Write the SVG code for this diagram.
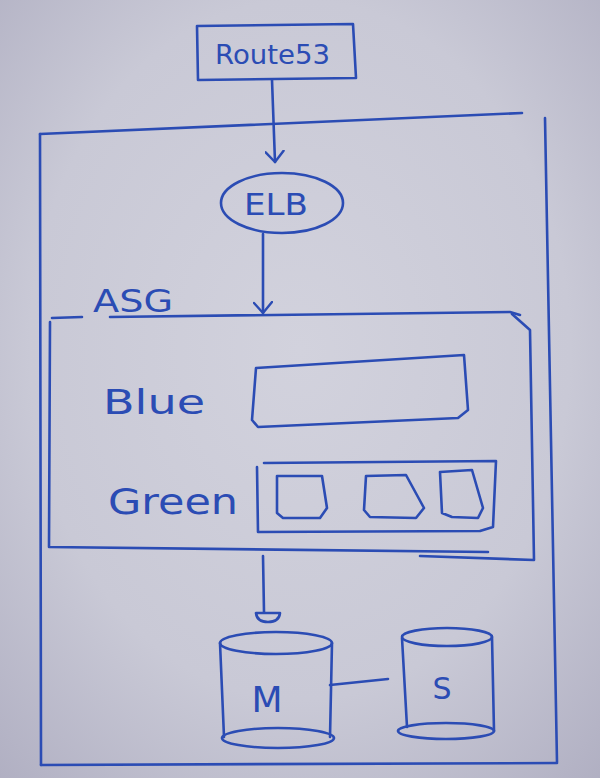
<svg xmlns="http://www.w3.org/2000/svg" width="600" height="778" viewBox="0 0 600 778">
<defs>
<radialGradient id="paper" cx="50%" cy="45%" r="75%">
<stop offset="0" stop-color="#d2d2dd"/>
<stop offset="0.6" stop-color="#c9c9d6"/>
<stop offset="1" stop-color="#b0afc2"/>
</radialGradient>
<marker id="arr" viewBox="0 0 14 20" refX="12" refY="10" markerWidth="14" markerHeight="20" markerUnits="userSpaceOnUse" orient="auto">
<path d="M1 1 L12 10 L2 19" fill="none" stroke="#2b4cb4" stroke-width="2.4" stroke-linecap="round" stroke-linejoin="round"/>
</marker>
<style>
.ink{fill:none;stroke:#2b4cb4;stroke-width:2.6;stroke-linecap:round;stroke-linejoin:round}
.txt{fill:#2b4cb4;font-family:"DejaVu Sans","Liberation Sans",sans-serif;font-weight:normal}
</style>
</defs>
<rect width="600" height="778" fill="url(#paper)"/>

<g id="vpc">
<path class="ink" d="M40 134 L522 113"/>
<path class="ink" d="M40 134 L41 765"/>
<path class="ink" d="M545 118 L557 762"/>
<path class="ink" d="M41 765 L557 763"/>
</g>

<g id="route53">
<path class="ink" d="M197 26 L353 24 L356 78 L198 80 Z"/>
<text class="txt" x="215" y="64" font-size="26" textLength="115" lengthAdjust="spacingAndGlyphs">Route53</text>
</g>

<g id="elb">
<ellipse class="ink" cx="282" cy="203" rx="61" ry="30"/>
<text class="txt" x="244" y="215" font-size="30" textLength="64" lengthAdjust="spacingAndGlyphs">ELB</text>
</g>

<g id="asg">
<text class="txt" x="93" y="312" font-size="32" textLength="80" lengthAdjust="spacingAndGlyphs">ASG</text>
<path class="ink" d="M52 318 L82 317 M110 317 L510 312 L520 315"/>
<path class="ink" d="M50 322 L49 547 L488 552"/>
<path class="ink" d="M512 314 L530 330 L534 560 L420 556"/>
</g>

<g id="blue">
<text class="txt" x="103" y="414" font-size="33" textLength="102" lengthAdjust="spacingAndGlyphs">Blue</text>
<path class="ink" d="M256 368 L464 355 L468 410 L458 418 L258 427 L252 420 Z"/>
</g>

<g id="green">
<text class="txt" x="108" y="514" font-size="35" textLength="130" lengthAdjust="spacingAndGlyphs">Green</text>
<path class="ink" d="M264 463 L496 461 L493 527 L480 531 L258 532 L257 467"/>
<path class="ink" d="M277 476 L322 476 L327 508 L320 518 L283 518 L277 513 Z"/>
<path class="ink" d="M366 476 L406 475 L424 508 L416 518 L370 517 L364 510 Z"/>
<path class="ink" d="M440 472 L472 470 L483 508 L478 518 L452 517 L442 513 Z"/>
</g>

<g id="master">
<ellipse class="ink" cx="276" cy="643" rx="56" ry="11"/>
<path class="ink" d="M220 643 L224 737 M332 643 L330 737"/>
<ellipse class="ink" cx="278" cy="738" rx="56" ry="10"/>
<text class="txt" x="267" y="712" font-size="36" text-anchor="middle">M</text>
</g>

<g id="slave">
<ellipse class="ink" cx="447" cy="637" rx="45" ry="9"/>
<path class="ink" d="M402 638 L407 727 M492 637 L494 731"/>
<ellipse class="ink" cx="446" cy="731" rx="48" ry="8"/>
<text class="txt" x="442" y="699" font-size="30" text-anchor="middle">S</text>
</g>

<g id="connectors">
<path class="ink" d="M272 80 L275 162" marker-end="url(#arr)"/>
<path class="ink" d="M263 234 L263 313" marker-end="url(#arr)"/>
<path class="ink" d="M263 556 L264 612"/>
<path class="ink" d="M256 613 L280 613 Q279 622 268 622 Q257 622 256 613 Z"/>
<path class="ink" d="M330 685 L388 679"/>
</g>
</svg>
